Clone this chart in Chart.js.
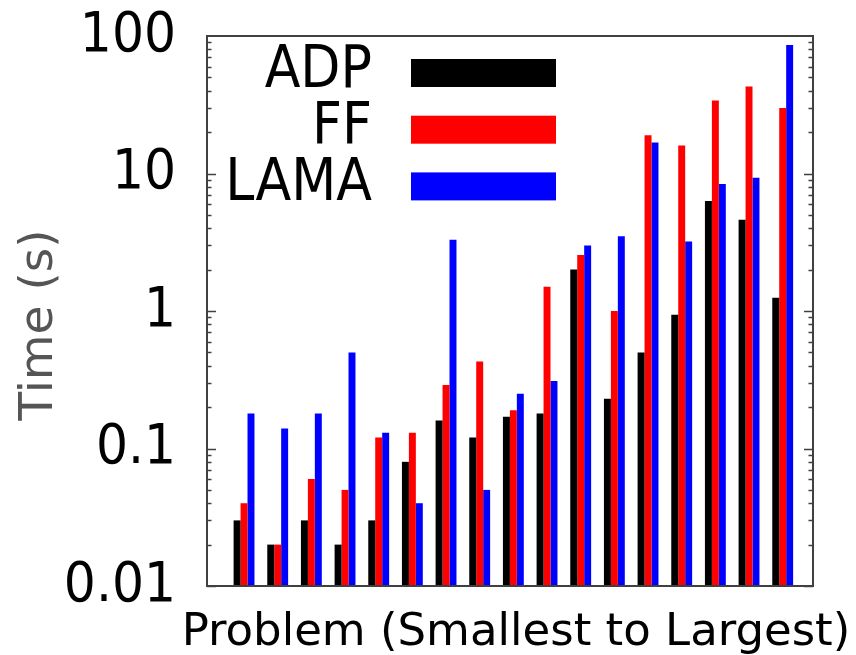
<!DOCTYPE html>
<html>
<head>
<meta charset="utf-8">
<script src="https://cdn.jsdelivr.net/npm/chart.js@4"></script>
<style>
    html, body { margin: 0; padding: 0; background: #ffffff; }
    #wrap { width: 856px; height: 655px; }
</style>
</head>
<body>
<div id="wrap"><canvas id="chart" width="856" height="655"></canvas></div>
<script>
// one entry per problem, smallest to largest
const problems = [0, 1, 2, 3, 4, 5, 6, 7, 8, 9, 10, 11, 12, 13, 14, 15, 16];
const adpTimes = [0.03, 0.02, 0.03, 0.02, 0.03, 0.08, 0.16, 0.12, 0.17, 0.18, 2.0, 0.23, 0.5, 0.94, 6.3, 4.6, 1.25];
const ffTimes = [0.04, 0.02, 0.06, 0.05, 0.12, 0.13, 0.29, 0.43, 0.19, 1.5, 2.55, 1.0, 19, 16, 34, 43, 30];
const lamaTimes = [0.18, 0.14, 0.18, 0.5, 0.13, 0.04, 3.3, 0.05, 0.25, 0.31, 3.0, 3.5, 16.8, 3.2, 8.4, 9.3, 86];
const yTickValues = [0.01, 0.1, 1, 10, 100];
const xTitle = 'Problem (Smallest to Largest)';
const yTitle = 'Time (s)';

const condensed = "'DejaVu Sans Condensed', 'DejaVu Sans', sans-serif";
const regular = "'DejaVu Sans', sans-serif";

const toPoints = (values) => values.map((v, i) => ({x: problems[i], y: v}));

// gnuplot style frame with inward log ticks on both sides
const framePlugin = {
    id: 'frame',
    afterDatasetsDraw(chart) {
        const {ctx, chartArea} = chart;
        const y = chart.scales.y;
        ctx.save();
        ctx.strokeStyle = '#404040';
        ctx.lineWidth = 1.5;
        for(let e = -2; e < 2; e++) {
            for(let m = 1; m <= 9; m++) {
                const v = m * Math.pow(10, e);
                const py = Math.round(y.getPixelForValue(v)) + 0.5;
                const len = m == 1 ? 9 : 4.5;
                ctx.beginPath();
                ctx.moveTo(chartArea.left, py);
                ctx.lineTo(chartArea.left + len, py);
                ctx.moveTo(chartArea.right, py);
                ctx.lineTo(chartArea.right - len, py);
                ctx.stroke();
            }
        }
        ctx.lineWidth = 2;
        ctx.strokeRect(chartArea.left, chartArea.top, chartArea.right - chartArea.left, chartArea.bottom - chartArea.top);
        ctx.restore();
    }
};

// key in the top left corner: label right aligned, long swatch after it
const keyPlugin = {
    id: 'key',
    afterDraw(chart) {
        const {ctx, chartArea} = chart;
        ctx.save();
        ctx.font = '58px ' + condensed;
        ctx.textAlign = 'right';
        ctx.textBaseline = 'middle';
        chart.data.datasets.forEach((ds, i) => {
            const cy = chartArea.top + 37 + i * 56.7;
            ctx.fillStyle = '#000000';
            ctx.fillText(ds.label, chartArea.left + 165, cy - 1);
            ctx.fillStyle = ds.backgroundColor;
            ctx.fillRect(chartArea.left + 204, cy - 14, 145, 28);
        });
        ctx.restore();
    }
};

// axis titles drawn by hand: the x one is wider than the plot and gnuplot lets it overflow
const titlesPlugin = {
    id: 'titles',
    afterDraw(chart) {
        const {ctx, chartArea} = chart;
        ctx.save();
        ctx.fillStyle = '#000000';
        ctx.font = '45px ' + regular;
        ctx.textAlign = 'center';
        ctx.textBaseline = 'alphabetic';
        ctx.fillText(xTitle, (chartArea.left + chartArea.right) / 2 + 6, chartArea.bottom + 59);
        ctx.translate(52, (chartArea.top + chartArea.bottom) / 2 + 14);
        ctx.rotate(-Math.PI / 2);
        ctx.fillStyle = '#555555';
        ctx.font = '47px ' + regular;
        ctx.fillText(yTitle, 0, 0);
        ctx.restore();
    }
};

new Chart(document.getElementById('chart'), {
    type: 'bar',
    data: {
        datasets: [
            {label: 'ADP', data: toPoints(adpTimes), backgroundColor: '#000000'},
            {label: 'FF', data: toPoints(ffTimes), backgroundColor: '#ff0000'},
            {label: 'LAMA', data: toPoints(lamaTimes), backgroundColor: '#0000ff'}
        ]
    },
    options: {
        responsive: false,
        animation: false,
        categoryPercentage: 0.62,
        barPercentage: 1.0,
        layout: {padding: {top: 36, right: 43, left: 0, bottom: 0}},
        plugins: {
            legend: {display: false},
            tooltip: {enabled: false}
        },
        scales: {
            x: {
                type: 'linear',
                offset: false,
                min: -1.1,
                max: 16.9,
                grid: {display: false, offset: false},
                border: {display: false},
                ticks: {display: false},
                afterFit: (scale) => {
                    scale.height = 69;
                    scale.paddingLeft = 0;
                    scale.paddingRight = 0;
                }
            },
            y: {
                type: 'logarithmic',
                min: 0.01,
                max: 100,
                grid: {display: false},
                border: {display: false},
                afterBuildTicks: (scale) => {
                    scale.ticks = yTickValues.map(v => ({value: v}));
                },
                ticks: {
                    autoSkip: false,
                    padding: 23,
                    color: '#000000',
                    font: {family: condensed, size: 56},
                    callback: (v) => String(v)
                },
                afterFit: (scale) => {
                    scale.width = 207;
                    scale.paddingTop = 0;
                    scale.paddingBottom = 0;
                }
            }
        }
    },
    plugins: [framePlugin, keyPlugin, titlesPlugin]
});
</script>
</body>
</html>
